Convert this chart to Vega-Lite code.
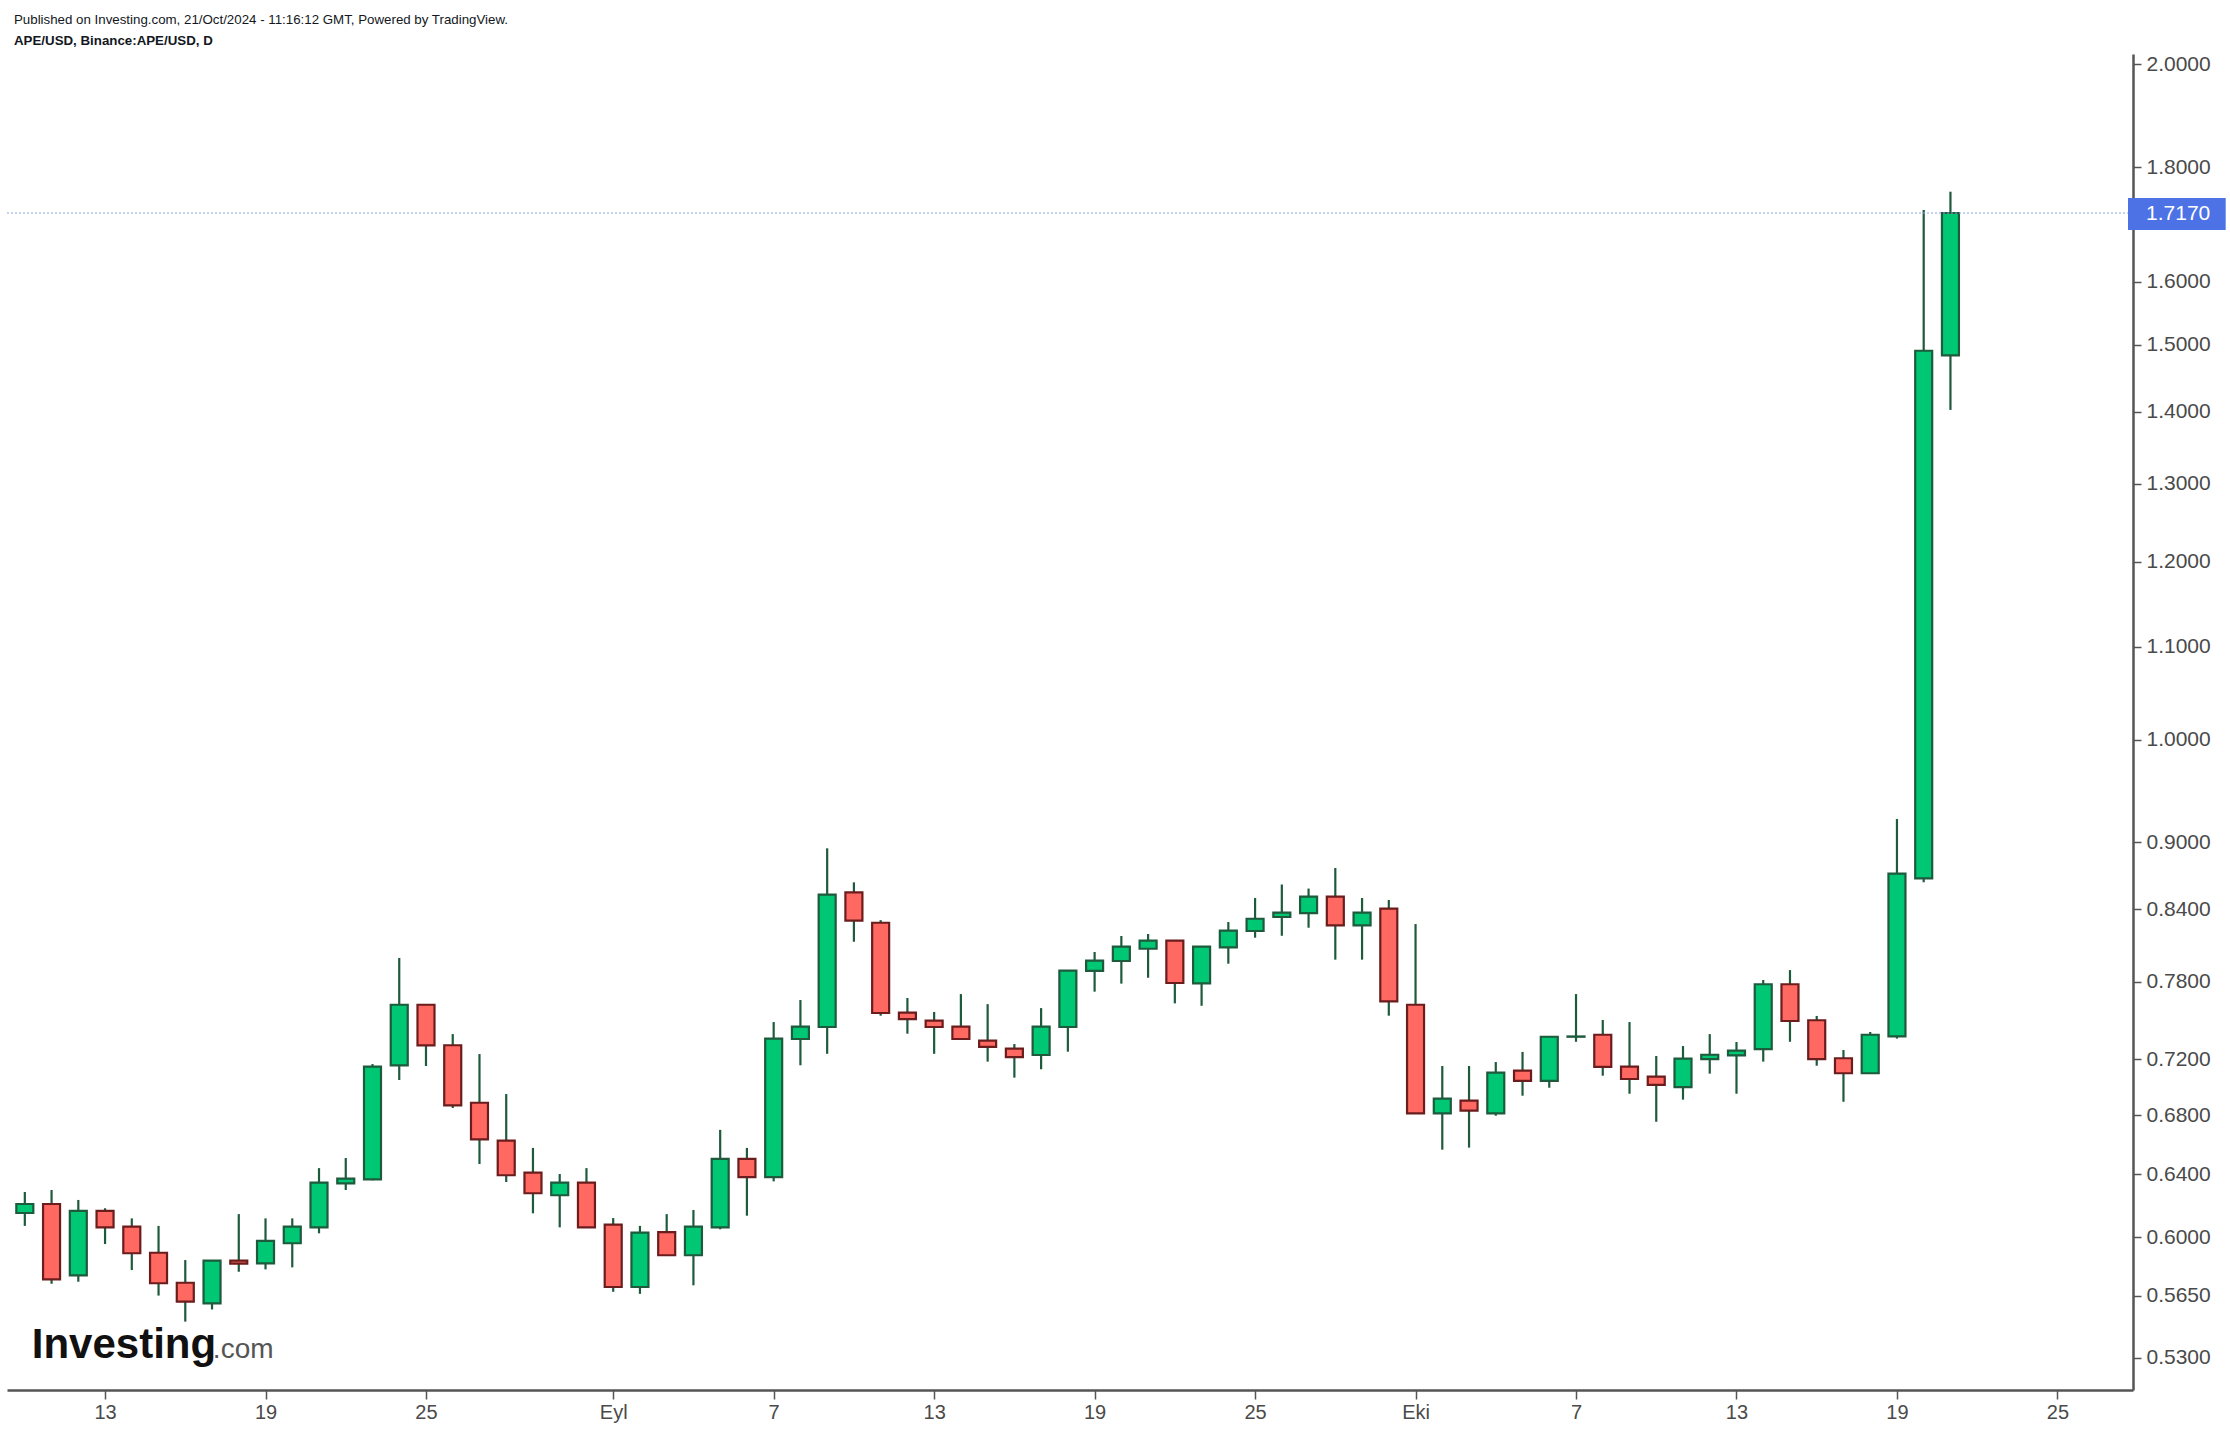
{
  "$schema": "https://vega.github.io/schema/vega-lite/v6.json",
  "autosize": {"type": "none"},
  "width": 2126,
  "height": 1336,
  "padding": {"left": 7, "top": 54, "right": 97, "bottom": 44},
  "background": "white",
  "config": {
    "view": {"stroke": null},
    "font": "Liberation Sans"
  },
  "title": {
    "text": "Published on Investing.com, 21/Oct/2024 - 11:16:12 GMT, Powered by TradingView.",
    "subtitle": "APE/USD, Binance:APE/USD, D",
    "anchor": "start",
    "frame": "group",
    "dx": 7,
    "offset": 6,
    "font": "Liberation Sans",
    "fontSize": 13.3,
    "fontWeight": "normal",
    "color": "#131722",
    "subtitleFont": "Liberation Sans",
    "subtitleFontSize": 13.3,
    "subtitleFontWeight": "bold",
    "subtitleColor": "#131722",
    "subtitlePadding": 8
  },
  "datasets": {
    "notes": [
      {"kind": "box", "x": "2024-10-27T15:20:00Z", "x2": "2024-10-31T07:00:00Z", "top": 1.7436, "bot": 1.6873},
      {"kind": "price", "x": "2024-10-28T07:30:00Z", "v": 1.717},
      {"kind": "logo", "x": "2024-08-10T06:15:00Z", "v": 0.53, "t": "Investing"},
      {"kind": "logo2", "x": "2024-08-17T00:45:00Z", "v": 0.53, "t": ".com"}
    ]
  },
  "data": {
    "values": [
      {"d": "2024-08-10", "o": 0.615, "h": 0.6284, "l": 0.6069, "c": 0.6207},
      {"d": "2024-08-11", "o": 0.6207, "h": 0.6297, "l": 0.5719, "c": 0.5745},
      {"d": "2024-08-12", "o": 0.5769, "h": 0.6233, "l": 0.5731, "c": 0.6164},
      {"d": "2024-08-13", "o": 0.6164, "h": 0.618, "l": 0.5957, "c": 0.606},
      {"d": "2024-08-14", "o": 0.6064, "h": 0.6116, "l": 0.58, "c": 0.5901},
      {"d": "2024-08-15", "o": 0.5904, "h": 0.6069, "l": 0.565, "c": 0.5722},
      {"d": "2024-08-16", "o": 0.5725, "h": 0.586, "l": 0.5501, "c": 0.5615},
      {"d": "2024-08-17", "o": 0.5605, "h": 0.586, "l": 0.557, "c": 0.5856},
      {"d": "2024-08-18", "o": 0.5856, "h": 0.6143, "l": 0.579, "c": 0.5838},
      {"d": "2024-08-19", "o": 0.584, "h": 0.6116, "l": 0.5804, "c": 0.5977},
      {"d": "2024-08-20", "o": 0.5962, "h": 0.6116, "l": 0.5816, "c": 0.6064},
      {"d": "2024-08-21", "o": 0.606, "h": 0.644, "l": 0.6023, "c": 0.6345},
      {"d": "2024-08-22", "o": 0.634, "h": 0.6507, "l": 0.6297, "c": 0.6371},
      {"d": "2024-08-23", "o": 0.6366, "h": 0.7166, "l": 0.636, "c": 0.7147},
      {"d": "2024-08-24", "o": 0.7157, "h": 0.7991, "l": 0.705, "c": 0.7616},
      {"d": "2024-08-25", "o": 0.7616, "h": 0.7616, "l": 0.7152, "c": 0.7305},
      {"d": "2024-08-26", "o": 0.7306, "h": 0.739, "l": 0.685, "c": 0.6869},
      {"d": "2024-08-27", "o": 0.6887, "h": 0.724, "l": 0.6467, "c": 0.6633},
      {"d": "2024-08-28", "o": 0.6624, "h": 0.6949, "l": 0.6349, "c": 0.6393},
      {"d": "2024-08-29", "o": 0.641, "h": 0.6575, "l": 0.6148, "c": 0.6276},
      {"d": "2024-08-30", "o": 0.6263, "h": 0.6401, "l": 0.606, "c": 0.6345},
      {"d": "2024-08-31", "o": 0.6345, "h": 0.644, "l": 0.606, "c": 0.606},
      {"d": "2024-09-01", "o": 0.6077, "h": 0.6118, "l": 0.5672, "c": 0.57},
      {"d": "2024-09-02", "o": 0.57, "h": 0.6069, "l": 0.566, "c": 0.6027},
      {"d": "2024-09-03", "o": 0.603, "h": 0.6143, "l": 0.5885, "c": 0.5889},
      {"d": "2024-09-04", "o": 0.5889, "h": 0.6169, "l": 0.571, "c": 0.6064},
      {"d": "2024-09-05", "o": 0.606, "h": 0.6698, "l": 0.6048, "c": 0.6502},
      {"d": "2024-09-06", "o": 0.6502, "h": 0.6575, "l": 0.6133, "c": 0.6381},
      {"d": "2024-09-07", "o": 0.6381, "h": 0.7482, "l": 0.6353, "c": 0.7355},
      {"d": "2024-09-08", "o": 0.7353, "h": 0.7653, "l": 0.7157, "c": 0.7447},
      {"d": "2024-09-09", "o": 0.7444, "h": 0.8943, "l": 0.7242, "c": 0.8527},
      {"d": "2024-09-10", "o": 0.8548, "h": 0.8636, "l": 0.8125, "c": 0.8303},
      {"d": "2024-09-11", "o": 0.8285, "h": 0.8307, "l": 0.7531, "c": 0.7552},
      {"d": "2024-09-12", "o": 0.7554, "h": 0.7669, "l": 0.7393, "c": 0.7505},
      {"d": "2024-09-13", "o": 0.7493, "h": 0.756, "l": 0.7242, "c": 0.7444},
      {"d": "2024-09-14", "o": 0.7447, "h": 0.77, "l": 0.735, "c": 0.7353},
      {"d": "2024-09-15", "o": 0.734, "h": 0.7621, "l": 0.7184, "c": 0.7293},
      {"d": "2024-09-16", "o": 0.728, "h": 0.7315, "l": 0.7067, "c": 0.7218},
      {"d": "2024-09-17", "o": 0.7233, "h": 0.759, "l": 0.7128, "c": 0.7447},
      {"d": "2024-09-18", "o": 0.7444, "h": 0.7887, "l": 0.7258, "c": 0.7887},
      {"d": "2024-09-19", "o": 0.7885, "h": 0.804, "l": 0.7719, "c": 0.7969},
      {"d": "2024-09-20", "o": 0.7966, "h": 0.8173, "l": 0.7783, "c": 0.8084},
      {"d": "2024-09-21", "o": 0.8067, "h": 0.819, "l": 0.783, "c": 0.8134},
      {"d": "2024-09-22", "o": 0.8134, "h": 0.8134, "l": 0.7627, "c": 0.7788},
      {"d": "2024-09-23", "o": 0.7785, "h": 0.8084, "l": 0.7608, "c": 0.8084},
      {"d": "2024-09-24", "o": 0.8078, "h": 0.8291, "l": 0.7944, "c": 0.8218},
      {"d": "2024-09-25", "o": 0.8215, "h": 0.8498, "l": 0.8159, "c": 0.8319},
      {"d": "2024-09-26", "o": 0.8334, "h": 0.8617, "l": 0.8175, "c": 0.8371},
      {"d": "2024-09-27", "o": 0.8368, "h": 0.8581, "l": 0.8243, "c": 0.851},
      {"d": "2024-09-28", "o": 0.851, "h": 0.8764, "l": 0.7977, "c": 0.8263},
      {"d": "2024-09-29", "o": 0.8263, "h": 0.8498, "l": 0.7977, "c": 0.8371},
      {"d": "2024-09-30", "o": 0.8406, "h": 0.8481, "l": 0.7531, "c": 0.7643},
      {"d": "2024-10-01", "o": 0.7616, "h": 0.8274, "l": 0.6813, "c": 0.6813},
      {"d": "2024-10-02", "o": 0.6813, "h": 0.7152, "l": 0.6563, "c": 0.6916},
      {"d": "2024-10-03", "o": 0.6902, "h": 0.7152, "l": 0.6577, "c": 0.6831},
      {"d": "2024-10-04", "o": 0.6813, "h": 0.7181, "l": 0.6796, "c": 0.7103},
      {"d": "2024-10-05", "o": 0.7118, "h": 0.7256, "l": 0.6937, "c": 0.7043},
      {"d": "2024-10-06", "o": 0.7043, "h": 0.737, "l": 0.6994, "c": 0.737},
      {"d": "2024-10-07", "o": 0.737, "h": 0.77, "l": 0.7332, "c": 0.7372},
      {"d": "2024-10-08", "o": 0.7385, "h": 0.7498, "l": 0.7081, "c": 0.7145},
      {"d": "2024-10-09", "o": 0.7147, "h": 0.7482, "l": 0.6951, "c": 0.7057},
      {"d": "2024-10-10", "o": 0.7074, "h": 0.7226, "l": 0.6754, "c": 0.7014},
      {"d": "2024-10-11", "o": 0.6999, "h": 0.73, "l": 0.6909, "c": 0.7206},
      {"d": "2024-10-12", "o": 0.7203, "h": 0.739, "l": 0.7096, "c": 0.7235},
      {"d": "2024-10-13", "o": 0.7231, "h": 0.733, "l": 0.6951, "c": 0.7265},
      {"d": "2024-10-14", "o": 0.7277, "h": 0.7812, "l": 0.7184, "c": 0.7778},
      {"d": "2024-10-15", "o": 0.7778, "h": 0.7892, "l": 0.7332, "c": 0.749},
      {"d": "2024-10-16", "o": 0.7496, "h": 0.7529, "l": 0.7154, "c": 0.7203},
      {"d": "2024-10-17", "o": 0.7209, "h": 0.727, "l": 0.6894, "c": 0.7099},
      {"d": "2024-10-18", "o": 0.7099, "h": 0.7406, "l": 0.7099, "c": 0.7385},
      {"d": "2024-10-19", "o": 0.7373, "h": 0.9216, "l": 0.7356, "c": 0.8713},
      {"d": "2024-10-20", "o": 0.8672, "h": 1.7223, "l": 0.8636, "c": 1.4906},
      {"d": "2024-10-21", "o": 1.4836, "h": 1.755, "l": 1.4027, "c": 1.717}
    ]
  },
  "encoding": {
    "x": {
      "field": "d",
      "type": "temporal",
      "scale": {
        "type": "utc",
        "domain": [
          {"year": 2024, "month": 8, "date": 9, "hours": 12, "minutes": 30, "utc": true},
          {"year": 2024, "month": 10, "date": 27, "hours": 15, "minutes": 20, "utc": true}
        ]
      },
      "axis": {
        "title": null,
        "orient": "bottom",
        "values": [
          {"year": 2024, "month": 8, "date": 13, "utc": true},
          {"year": 2024, "month": 8, "date": 19, "utc": true},
          {"year": 2024, "month": 8, "date": 25, "utc": true},
          {"year": 2024, "month": 9, "date": 1, "utc": true},
          {"year": 2024, "month": 9, "date": 7, "utc": true},
          {"year": 2024, "month": 9, "date": 13, "utc": true},
          {"year": 2024, "month": 9, "date": 19, "utc": true},
          {"year": 2024, "month": 9, "date": 25, "utc": true},
          {"year": 2024, "month": 10, "date": 1, "utc": true},
          {"year": 2024, "month": 10, "date": 7, "utc": true},
          {"year": 2024, "month": 10, "date": 13, "utc": true},
          {"year": 2024, "month": 10, "date": 19, "utc": true},
          {"year": 2024, "month": 10, "date": 25, "utc": true}
        ],
        "labelExpr": "utcdate(datum.value) == 1 ? (utcmonth(datum.value) == 8 ? 'Eyl' : 'Eki') : '' + utcdate(datum.value)",
        "grid": false,
        "domainColor": "#555555",
        "domainWidth": 2.5,
        "tickColor": "#555555",
        "tickWidth": 1.5,
        "tickSize": 9,
        "labelPadding": 3,
        "labelFontSize": 20,
        "labelColor": "#4a4a4a",
        "labelFont": "Liberation Sans"
      }
    }
  },
  "layer": [
    {
      "mark": {"type": "rule", "color": "#1e5a3c", "strokeWidth": 2.2},
      "encoding": {
        "y": {
          "field": "l",
          "type": "quantitative",
          "scale": {"type": "log", "domain": [0.5128, 2.0215], "nice": false, "zero": false},
          "axis": {
            "title": null,
            "orient": "right",
            "values": [0.53, 0.565, 0.6, 0.64, 0.68, 0.72, 0.78, 0.84, 0.9, 1.0, 1.1, 1.2, 1.3, 1.4, 1.5, 1.6, 1.8, 2.0],
            "format": ".4f",
            "grid": false,
            "domainColor": "#555555",
            "domainWidth": 2.5,
            "tickColor": "#555555",
            "tickWidth": 1.5,
            "tickSize": 8,
            "labelPadding": 5,
            "labelFontSize": 21,
            "labelColor": "#4a4a4a",
            "labelFont": "Liberation Sans"
          }
        },
        "y2": {"field": "h"}
      }
    },
    {
      "mark": {"type": "bar", "width": 17, "strokeWidth": 2.2},
      "encoding": {
        "y": {"field": "o", "type": "quantitative"},
        "y2": {"field": "c"},
        "fill": {
          "condition": {"test": "datum.c >= datum.o", "value": "#00c774"},
          "value": "#ff6961"
        },
        "stroke": {
          "condition": {"test": "datum.c >= datum.o", "value": "#1e5a3c"},
          "value": "#6b1c1c"
        }
      }
    },
    {
      "data": {"name": "notes"},
      "transform": [{"filter": "datum.kind == 'price'"}],
      "mark": {"type": "rule", "color": "#8da2e0", "strokeWidth": 1.2, "strokeDash": [2, 2]},
      "encoding": {
        "x": null,
        "y": {"field": "v", "type": "quantitative"}
      }
    },
    {
      "data": {"name": "notes"},
      "transform": [{"filter": "datum.kind == 'box'"}],
      "mark": {"type": "rect", "color": "#4c72e6", "clip": false},
      "encoding": {
        "x": {"field": "x", "type": "temporal"},
        "x2": {"field": "x2"},
        "y": {"field": "top", "type": "quantitative"},
        "y2": {"field": "bot"}
      }
    },
    {
      "data": {"name": "notes"},
      "transform": [{"filter": "datum.kind == 'price'"}],
      "mark": {"type": "text", "color": "white", "fontSize": 21, "align": "left", "baseline": "middle", "font": "Liberation Sans", "clip": false, "dy": 1},
      "encoding": {
        "x": {"field": "x", "type": "temporal"},
        "y": {"field": "v", "type": "quantitative"},
        "text": {"field": "v", "type": "quantitative", "format": ".4f"}
      }
    },
    {
      "data": {"name": "notes"},
      "transform": [{"filter": "datum.kind == 'logo'"}],
      "mark": {"type": "text", "color": "#111111", "fontSize": 42, "fontWeight": "bold", "align": "left", "baseline": "alphabetic", "font": "Liberation Sans", "letterSpacing": -1.5},
      "encoding": {
        "x": {"field": "x", "type": "temporal"},
        "y": {"field": "v", "type": "quantitative"},
        "text": {"field": "t"}
      }
    },
    {
      "data": {"name": "notes"},
      "transform": [{"filter": "datum.kind == 'logo2'"}],
      "mark": {"type": "text", "color": "#555555", "fontSize": 28, "align": "left", "baseline": "alphabetic", "font": "Liberation Sans"},
      "encoding": {
        "x": {"field": "x", "type": "temporal"},
        "y": {"field": "v", "type": "quantitative"},
        "text": {"field": "t"}
      }
    }
  ]
}
